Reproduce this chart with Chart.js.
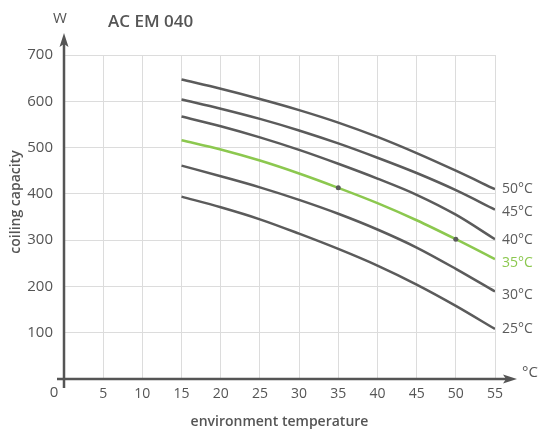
<!DOCTYPE html>
<html>
<head>
<meta charset="utf-8">
<script src="https://cdn.jsdelivr.net/npm/chart.js@4/dist/chart.umd.min.js"></script>
<style>
html,body{margin:0;padding:0;background:#fff;}
canvas{display:block;}
</style>
</head>
<body>
<canvas id="c" width="539" height="430"></canvas>
<script>
// ---- data ----
const chartTitle = "AC EM 040";
const xTicks = [0, 5, 10, 15, 20, 25, 30, 35, 40, 45, 50, 55];
const yTicks = [100, 200, 300, 400, 500, 600, 700];
const envTemp = [15, 20, 25, 30, 35, 40, 45, 50, 55];
const seriesLabels = ["50°C", "45°C", "40°C", "35°C", "30°C", "25°C"];
const cap50 = [647, 627, 605, 581, 554, 523, 488, 450, 410];
const cap45 = [604, 584, 562, 537, 509, 478, 445, 408, 366];
const cap40 = [567, 546, 522, 495, 465, 433, 398, 355, 302];
const cap35 = [516, 496, 472, 444, 413, 380, 343, 302, 259];
const cap30 = [461, 438, 414, 387, 357, 323, 284, 238, 189];
const cap25 = [394, 371, 345, 314, 281, 245, 204, 158, 108];
const markedTemps35 = [35, 50];

const GRAY = "#5b5b5b";
const GREEN = "#8cc84f";
const FONT = "'Open Sans', 'DejaVu Sans', sans-serif";

function pts(vals){ return envTemp.map((x,i)=>({x:x, y:vals[i]})); }
const allSeries = [cap50, cap45, cap40, cap35, cap30, cap25];
const datasets = allSeries.map((vals, i) => {
  const isGreen = seriesLabels[i] === "35°C";
  return {
    label: seriesLabels[i],
    data: pts(vals),
    borderColor: isGreen ? GREEN : GRAY,
    backgroundColor: GRAY,
    borderWidth: 2.5,
    cubicInterpolationMode: 'monotone',
    pointRadius: isGreen ? envTemp.map(x => markedTemps35.includes(x) ? 2.5 : 0) : 0,
    pointBackgroundColor: GRAY,
    pointBorderWidth: 0,
    fill: false
  };
});

const decor = {
  id: 'decor',
  afterDraw(chart){
    const ctx = chart.ctx;
    const xs = chart.scales.x, ys = chart.scales.y;
    const x0 = xs.getPixelForValue(0), y0 = ys.getPixelForValue(0);
    const yTop = ys.getPixelForValue(700);
    const xEnd = xs.getPixelForValue(55);
    ctx.save();
    ctx.strokeStyle = "#555"; ctx.fillStyle = "#555"; ctx.lineWidth = 2.5;
    // y axis with arrow
    ctx.beginPath(); ctx.moveTo(x0, y0 + 9); ctx.lineTo(x0, yTop - 14); ctx.stroke();
    ctx.beginPath(); ctx.moveTo(x0, yTop - 22); ctx.lineTo(x0 - 4.5, yTop - 8); ctx.lineTo(x0, yTop - 11); ctx.lineTo(x0 + 4.5, yTop - 8); ctx.closePath(); ctx.fill();
    // x axis with arrow
    ctx.beginPath(); ctx.moveTo(x0 - 7, y0); ctx.lineTo(xEnd + 12, y0); ctx.stroke();
    ctx.beginPath(); ctx.moveTo(xEnd + 22, y0); ctx.lineTo(xEnd + 8, y0 - 4.5); ctx.lineTo(xEnd + 11, y0); ctx.lineTo(xEnd + 8, y0 + 4.5); ctx.closePath(); ctx.fill();
    // texts
    ctx.fillStyle = "#555";
    ctx.textBaseline = "middle";
    ctx.font = "15px " + FONT;
    ctx.textAlign = "center";
    ctx.fillText("0", x0 - 10, y0 + 14);
    ctx.fillText("W", x0 - 4, 19);
    ctx.textAlign = "left";
    ctx.fillText("°C", xEnd + 27, y0 - 6);
    ctx.font = "600 17px " + FONT;
    ctx.fillText(chartTitle, x0 + 44, 22);
    // series labels at line ends
    ctx.font = "14px " + FONT;
    const labelShift = [0, 2, 1, 4, 3, 0];
    chart.data.datasets.forEach((ds, i) => {
      const last = ds.data[ds.data.length - 1];
      ctx.fillStyle = ds.borderColor;
      ctx.fillText(ds.label, xs.getPixelForValue(last.x) + 7, ys.getPixelForValue(last.y) + labelShift[i]);
    });
    // y axis title
    ctx.fillStyle = "#555";
    ctx.font = "600 14px " + FONT;
    ctx.translate(16, 202);
    ctx.rotate(-Math.PI/2);
    ctx.textAlign = "center";
    ctx.fillText("coiling capacity", 0, 0);
    ctx.restore();
  }
};

new Chart(document.getElementById('c'), {
  type: 'line',
  data: { datasets: datasets },
  options: {
    responsive: false,
    animation: false,
    layout: { padding: { top: 55, right: 44, left: 0, bottom: 0 } },
    plugins: { legend: { display: false }, tooltip: { enabled: false } },
    scales: {
      x: {
        type: 'linear', min: 0, max: 55,
        afterBuildTicks: s => { s.ticks = xTicks.map(v => ({value: v})); },
        afterFit: s => { s.height = 51; },
        border: { display: false },
        grid: { color: "#dcdcdc", lineWidth: 1, drawTicks: false },
        ticks: { padding: 7, color: "#555", font: { family: FONT, size: 14 },
                 callback: v => v === 0 ? "" : String(v), maxRotation: 0 },
        title: { display: true, text: "environment temperature", color: "#555",
                 font: { family: FONT, size: 14, weight: '600' }, padding: { top: 5, bottom: 0 } }
      },
      y: {
        type: 'linear', min: 0, max: 700,
        afterBuildTicks: s => { s.ticks = [0].concat(yTicks).map(v => ({value: v})); },
        afterFit: s => { s.width = 64; },
        border: { display: false },
        grid: { color: "#dcdcdc", lineWidth: 1, drawTicks: false },
        ticks: { padding: 11, color: "#555", font: { family: FONT, size: 15 },
                 callback: v => v === 0 ? "" : String(v) }
      }
    }
  },
  plugins: [decor]
});
</script>
</body>
</html>
